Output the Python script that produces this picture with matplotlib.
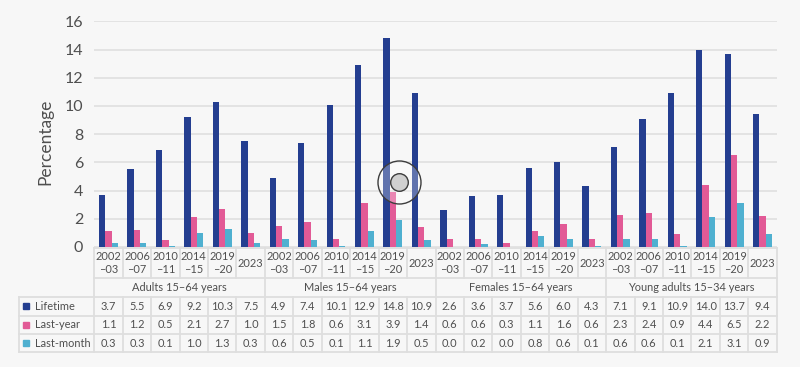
import numpy
from matplotlib import pyplot
from matplotlib.patches import Circle, Rectangle

WIDTH, HEIGHT = 800, 367
BACKGROUND = "#f7f7f7"
TEXT = "#4f4f4f"
GRID = "#dedede"
COLOURS = ["#243e90", "#e25a96", "#4fb0d0"]

periods = ["2002\n\u201303", "2006\n\u201307", "2010\n\u201311", "2014\n\u201315", "2019\n\u201320", "2023"]
groups = ["Adults 15\u201364 years", "Males 15\u201364 years", "Females 15\u201364 years", "Young adults 15\u201334 years"]
series = ["Lifetime", "Last-year", "Last-month"]

lifetime = [3.7, 5.5, 6.9, 9.2, 10.3, 7.5,
            4.9, 7.4, 10.1, 12.9, 14.8, 10.9,
            2.6, 3.6, 3.7, 5.6, 6.0, 4.3,
            7.1, 9.1, 10.9, 14.0, 13.7, 9.4]
last_year = [1.1, 1.2, 0.5, 2.1, 2.7, 1.0,
             1.5, 1.8, 0.6, 3.1, 3.9, 1.4,
             0.6, 0.6, 0.3, 1.1, 1.6, 0.6,
             2.3, 2.4, 0.9, 4.4, 6.5, 2.2]
last_month = [0.3, 0.3, 0.1, 1.0, 1.3, 0.3,
              0.6, 0.5, 0.1, 1.1, 1.9, 0.5,
              0.0, 0.2, 0.0, 0.8, 0.6, 0.1,
              0.6, 0.6, 0.1, 2.1, 3.1, 0.9]
values = [lifetime, last_year, last_month]

pyplot.rcParams["font.family"] = ["Lato", "DejaVu Sans"]

fig = pyplot.figure(figsize=(WIDTH / 100, HEIGHT / 100), dpi=100, facecolor=BACKGROUND)

LEFT, RIGHT = 94.3, 776.7
TOP, ZERO, BASE, BOTTOM = 21.3, 247, 248, 352.3
FONTSIZE = 7.9


def axes_from_pixels(x0, x1, y0, y1):
    return fig.add_axes([x0 / WIDTH, 1 - y1 / HEIGHT, (x1 - x0) / WIDTH, (y1 - y0) / HEIGHT])


# bars
ax = axes_from_pixels(LEFT, RIGHT, TOP, ZERO)
ax.set_facecolor("none")
xes = numpy.arange(len(lifetime))
bar_width = 0.222
for i, (vals, colour) in enumerate(zip(values, COLOURS)):
    ax.bar(xes + (i - 1) * bar_width, vals, bar_width, color=colour, zorder=3, label=series[i])
ax.set_xlim(-0.5, len(lifetime) - 0.5)
ax.set_ylim(0, 16)
ax.set_yticks(range(0, 17, 2))
ax.set_xticks([])
ax.tick_params(axis="y", length=0, pad=8, labelsize=11.5, labelcolor=TEXT)
ax.grid(axis="y", color=GRID, linewidth=1.1, zorder=0)
for spine in ax.spines.values():
    spine.set_visible(False)
ax.set_ylabel("Percentage", fontsize=12.5, color=TEXT)
ax.yaxis.set_label_coords(-0.06, 0.465)

# table, drawn in axes whose y runs in pixels from the top of the picture
tab = axes_from_pixels(LEFT, RIGHT, BASE, BOTTOM)
tab.set_xlim(-0.5, len(lifetime) - 0.5)
tab.set_ylim(BOTTOM, BASE)
tab.axis("off")

cell = (RIGHT - LEFT) / len(lifetime)
label_left = -0.5 - (LEFT - 19) / cell
right_edge = len(lifetime) - 0.5
ROWS = [297, 315.7, 334, 352.3]
HEADER = 278.3
line = dict(color=GRID, linewidth=1.3, clip_on=False, solid_capstyle="projecting")

tab.plot([-0.5, right_edge], [BASE, BASE], **line)
tab.plot([-0.5, right_edge], [HEADER, HEADER], **line)
for y in ROWS:
    tab.plot([label_left, right_edge], [y, y], **line)
tab.plot([label_left, label_left], [ROWS[0], ROWS[-1]], **line)
for k in range(len(lifetime) + 1):
    x = k - 0.5
    if k % 6 == 0:
        tab.plot([x, x], [BASE, BOTTOM], **line)
    else:
        tab.plot([x, x], [BASE, HEADER], **line)
        tab.plot([x, x], [ROWS[0], BOTTOM], **line)

for k in xes:
    tab.text(k, (BASE + HEADER) / 2, periods[k % 6], ha="center", va="center",
             fontsize=FONTSIZE, color=TEXT, linespacing=1.15)
for g, name in enumerate(groups):
    tab.text(6 * g + 2.5, (HEADER + ROWS[0]) / 2, name, ha="center", va="center",
             fontsize=FONTSIZE, color=TEXT)

for r, (name, vals, colour) in enumerate(zip(series, values, COLOURS)):
    y0, y1 = ROWS[r], ROWS[r + 1]
    mid = (y0 + y1) / 2
    tab.add_patch(Rectangle((label_left + 4.3 / cell, mid - 3), 6 / cell, 6, color=colour, clip_on=False))
    tab.text(label_left + 15.7 / cell, mid, name, ha="left", va="center",
             fontsize=FONTSIZE, color=TEXT, clip_on=False)
    for k, v in enumerate(vals):
        tab.text(k, mid, f"{v:.1f}", ha="center", va="center", fontsize=FONTSIZE, color=TEXT)

# hotspot marker over the chart
over = fig.add_axes([0, 0, 1, 1])
over.set_xlim(0, WIDTH)
over.set_ylim(HEIGHT, 0)
over.axis("off")
over.set_facecolor("none")
over.add_patch(Circle((399.5, 182.5), 21.5, facecolor=(1, 1, 1, 0.28), edgecolor="#3d3d3d", linewidth=1.0))
over.add_patch(Circle((399.5, 182.5), 8.8, facecolor="#d0d0d0", edgecolor="#3d3d3d", linewidth=1.0))

fig.savefig("out.png", dpi=100, facecolor=BACKGROUND)
